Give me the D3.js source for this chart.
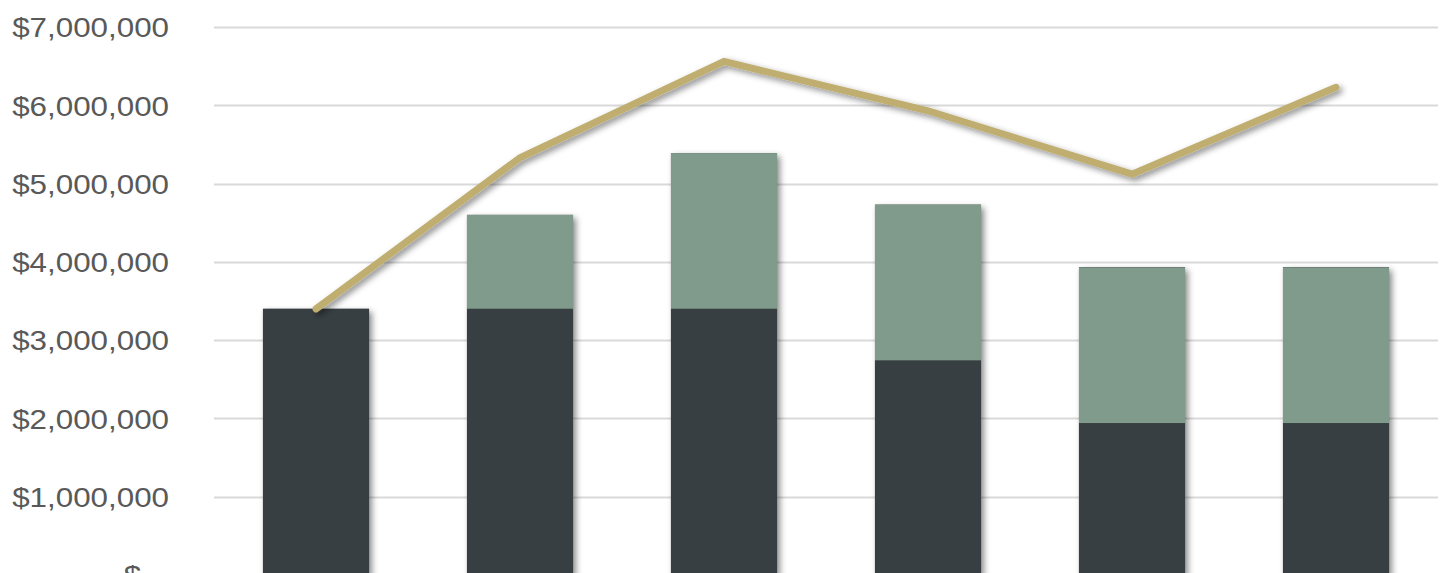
<!DOCTYPE html>
<html>
<head>
<meta charset="utf-8">
<script src="https://cdn.jsdelivr.net/npm/d3@7/dist/d3.min.js"></script>
<style>
  html, body { margin: 0; padding: 0; background: #fff; overflow: hidden; }
  text { font-family: "Liberation Sans", Arial, sans-serif; }
</style>
</head>
<body>
<svg id="chart" width="1445" height="573"></svg>
<script>
// données (en dollars)
var categories = ["P1", "P2", "P3", "P4", "P5", "P6"];
var baseValues = [3400000, 3400000, 3400000, 2740000, 1940000, 1940000];
var addValues  = [0, 1200000, 1990000, 1990000, 1990000, 1990000];
var lineValues = [3400000, 5330000, 6560000, 5930000, 5120000, 6230000];
var yTicks = [0, 1000000, 2000000, 3000000, 4000000, 5000000, 6000000, 7000000];

var svg = d3.select("#chart");

// zone de tracé (pas de "top" global : conflit avec window.top)
var plot = { left: 214, right: 1438, top: 27, bottom: 575 };

var x = d3.scaleBand()
    .domain(categories)
    .range([plot.left, plot.right])
    .paddingInner(0.48)
    .paddingOuter(0.24);

var y = d3.scaleLinear()
    .domain([0, 7000000])
    .range([plot.bottom, plot.top]);

// ombre portée façon Excel
var defs = svg.append("defs");
var f = defs.append("filter").attr("id", "shadow")
    .attr("x", "-20%").attr("y", "-20%").attr("width", "140%").attr("height", "140%");
f.append("feDropShadow")
    .attr("dx", 3).attr("dy", 3).attr("stdDeviation", 3)
    .attr("flood-color", "#000").attr("flood-opacity", 0.45);

// grille
svg.append("g").attr("class", "grid")
  .selectAll("line")
  .data(yTicks)
  .enter().append("line")
    .attr("x1", plot.left).attr("x2", plot.right)
    .attr("y1", function(d) { return Math.round(y(d)) + 0.5; })
    .attr("y2", function(d) { return Math.round(y(d)) + 0.5; })
    .attr("stroke", "#d9d9d9")
    .attr("stroke-width", 2);

// étiquettes de l'axe Y (police un peu étirée en largeur comme l'original)
var fmt = d3.format("$,.0f");
svg.append("g").attr("class", "yaxis")
  .selectAll("text")
  .data(yTicks)
  .enter().append("text")
    .attr("transform", function(d) { return "translate(169," + y(d) + ") scale(1.1,1)"; })
    .attr("dy", "0.36em")
    .attr("text-anchor", "end")
    .attr("fill", "#595959")
    .style("font-size", "28.5px")
    .style("white-space", "pre")
    .text(function(d) { return d === 0 ? "$  -" : fmt(d); });

// barres empilées
var rows = categories.map(function(c, i) {
  return { cat: c, base: baseValues[i], add: addValues[i] };
});

var bars = svg.append("g").attr("class", "bars");

bars.selectAll("rect.base")
  .data(rows)
  .enter().append("rect")
    .attr("class", "base")
    .attr("x", function(d) { return x(d.cat); })
    .attr("width", x.bandwidth())
    .attr("y", function(d) { return y(d.base + d.add); })
    .attr("height", function(d) { return y(0) - y(d.base + d.add); })
    .attr("fill", "#000")
    .attr("filter", "url(#shadow)");

bars.selectAll("rect.dark")
  .data(rows)
  .enter().append("rect")
    .attr("class", "dark")
    .attr("x", function(d) { return x(d.cat); })
    .attr("width", x.bandwidth())
    .attr("y", function(d) { return y(d.base); })
    .attr("height", function(d) { return y(0) - y(d.base); })
    .attr("fill", "#383f43");

bars.selectAll("rect.green")
  .data(rows.filter(function(d) { return d.add > 0; }))
  .enter().append("rect")
    .attr("class", "green")
    .attr("x", function(d) { return x(d.cat); })
    .attr("width", x.bandwidth())
    .attr("y", function(d) { return y(d.base + d.add); })
    .attr("height", function(d) { return y(d.base) - y(d.base + d.add); })
    .attr("fill", "#809b8c");

// courbe
var line = d3.line()
    .x(function(d, i) { return x(categories[i]) + x.bandwidth() / 2; })
    .y(function(d) { return y(d); });

svg.append("path")
    .datum(lineValues)
    .attr("d", line)
    .attr("fill", "none")
    .attr("stroke", "#bfae6f")
    .attr("stroke-width", 7)
    .attr("stroke-linecap", "round")
    .attr("stroke-linejoin", "miter")
    .attr("filter", "url(#shadow)");
</script>
</body>
</html>
